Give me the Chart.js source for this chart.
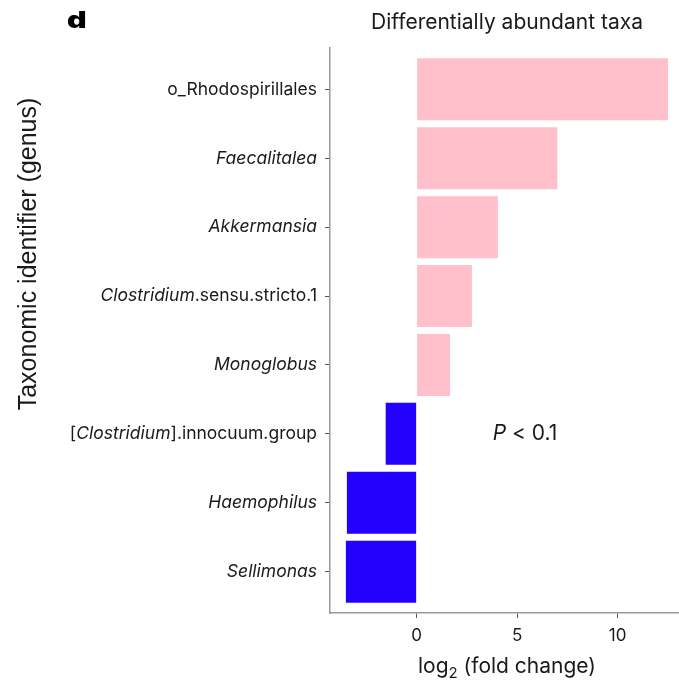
<!DOCTYPE html>
<html>
<head>
<meta charset="utf-8">
<script src="https://cdn.jsdelivr.net/npm/chart.js@4"></script>
<style>
  html, body { margin: 0; padding: 0; background: #fff; }
  #wrap { width: 679px; height: 685px; position: relative; }
</style>
</head>
<body>
<div id="wrap"><canvas id="chart" width="679" height="685"></canvas></div>
<script>
// Genus names, top to bottom, with the part of each name set in italics
const taxa = [
  'o_Rhodospirillales',
  'Faecalitalea',
  'Akkermansia',
  'Clostridium.sensu.stricto.1',
  'Monoglobus',
  '[Clostridium].innocuum.group',
  'Haemophilus',
  'Sellimonas'
];
const italicPart = ['', 'Faecalitalea', 'Akkermansia', 'Clostridium', 'Monoglobus', 'Clostridium', 'Haemophilus', 'Sellimonas'];

// log2 fold change per genus
const log2FoldChange = [12.5, 7.0, 4.04, 2.75, 1.66, -1.54, -3.47, -3.52];

const xTickValues = [0, 5, 10];
const panelLetter = 'd';
const chartTitle = 'Differentially abundant taxa';
const yTitle = 'Taxonomic identifier (genus)';
const pNote = ['P', ' < 0.1'];

const FONT = 'Inter, "Noto Sans", sans-serif';
const TEXT = '#1a1a1a';
const UP = '#ffc0cb';
const DOWN = '#2400ff';

const points = log2FoldChange.map((v, i) => ({ x: v, y: i }));

function drawMixed(ctx, text, ital, xRight, yMid, size) {
  let parts = [[text, false]];
  if (ital) {
    const k = text.indexOf(ital);
    parts = [[text.slice(0, k), false], [ital, true], [text.slice(k + ital.length), false]];
  }
  const fontFor = (it) => (it ? 'italic ' : '') + size + 'px ' + FONT;
  let total = 0;
  parts.forEach(([s, it]) => { ctx.font = fontFor(it); total += ctx.measureText(s).width; });
  let x = xRight - total;
  parts.forEach(([s, it]) => {
    ctx.font = fontFor(it);
    ctx.fillText(s, x, yMid);
    x += ctx.measureText(s).width;
  });
}

const annotations = {
  id: 'annotations',
  afterDraw(chart) {
    const { ctx, scales: { x, y }, chartArea } = chart;
    ctx.save();
    ctx.fillStyle = TEXT;

    // panel letter
    ctx.save();
    ctx.fillStyle = '#000';
    ctx.font = '900 22.5px ' + FONT;
    ctx.textAlign = 'left';
    ctx.textBaseline = 'alphabetic';
    ctx.translate(67, 28);
    ctx.scale(1.35, 1);
    ctx.fillText(panelLetter, 0, 0);
    ctx.restore();

    // title over the plot area
    ctx.font = '21px ' + FONT;
    ctx.textAlign = 'center';
    ctx.textBaseline = 'middle';
    ctx.fillText(chartTitle, 507, 23);

    // category labels
    ctx.textAlign = 'left';
    ctx.textBaseline = 'middle';
    taxa.forEach((t, i) => {
      drawMixed(ctx, t, italicPart[i], chartArea.left - 13, y.getPixelForValue(i), 17.5);
    });

    // y title
    ctx.save();
    ctx.translate(29, 254);
    ctx.rotate(-Math.PI / 2);
    ctx.font = '25px "Liberation Sans", Arial, sans-serif';
    ctx.textAlign = 'center';
    ctx.textBaseline = 'middle';
    ctx.fillText(yTitle, 0, 0);
    ctx.restore();

    // x title with subscript
    ctx.textBaseline = 'alphabetic';
    ctx.textAlign = 'left';
    const s1 = 'log', s2 = '2', s3 = ' (fold change)';
    ctx.font = '21px ' + FONT; const w1 = ctx.measureText(s1).width;
    ctx.font = '15px ' + FONT; const w2 = ctx.measureText(s2).width;
    ctx.font = '21px ' + FONT; const w3 = ctx.measureText(s3).width;
    let xs = 507 - (w1 + w2 + w3) / 2;
    const by = 673;
    ctx.font = '21px ' + FONT; ctx.fillText(s1, xs, by); xs += w1;
    ctx.font = '15px ' + FONT; ctx.fillText(s2, xs, by + 5); xs += w2;
    ctx.font = '21px ' + FONT; ctx.fillText(s3, xs, by);

    // significance note
    ctx.textBaseline = 'middle';
    ctx.font = 'italic 21px ' + FONT;
    const pw = ctx.measureText(pNote[0]).width;
    ctx.font = '21px ' + FONT;
    const rw = ctx.measureText(pNote[1]).width;
    const px = 525 - (pw + rw) / 2;
    const py = y.getPixelForValue(5);
    ctx.font = 'italic 21px ' + FONT; ctx.fillText(pNote[0], px, py);
    ctx.font = '21px ' + FONT; ctx.fillText(pNote[1], px + pw, py);

    ctx.restore();
  }
};

new Chart(document.getElementById('chart'), {
  type: 'bar',
  data: {
    datasets: [{
      data: points,
      backgroundColor: log2FoldChange.map(v => (v >= 0 ? UP : DOWN)),
      borderWidth: 0,
      barPercentage: 0.9,
      categoryPercentage: 1.0
    }]
  },
  options: {
    indexAxis: 'y',
    responsive: false,
    animation: false,
    layout: { padding: { left: 324, right: 0, top: 48, bottom: 0 } },
    plugins: { legend: { display: false }, tooltip: { enabled: false }, title: { display: false } },
    scales: {
      x: {
        type: 'linear',
        min: -4.31,
        max: 13.05,
        offset: false,
        afterBuildTicks: (s) => { s.ticks = xTickValues.map(v => ({ value: v })); },
        afterFit: (s) => { s.height = 72; },
        ticks: { color: TEXT, font: { family: FONT, size: 17 }, padding: 8, maxRotation: 0 },
        grid: { offset: false, drawOnChartArea: false, drawTicks: true, tickLength: 5, color: '#555', lineWidth: 1 },
        border: { color: '#999', width: 1.5 }
      },
      y: {
        type: 'linear',
        min: -0.6,
        max: 7.6,
        reverse: true,
        offset: false,
        afterBuildTicks: (s) => { s.ticks = taxa.map((_, i) => ({ value: i })); },
        afterFit: (s) => { s.width = 6; },
        ticks: { callback: () => '', padding: 0 },
        grid: { offset: false, drawOnChartArea: false, drawTicks: true, tickLength: 5, color: '#555', lineWidth: 1 },
        border: { color: '#999', width: 1.5 }
      }
    }
  },
  plugins: [annotations]
});
</script>
</body>
</html>
